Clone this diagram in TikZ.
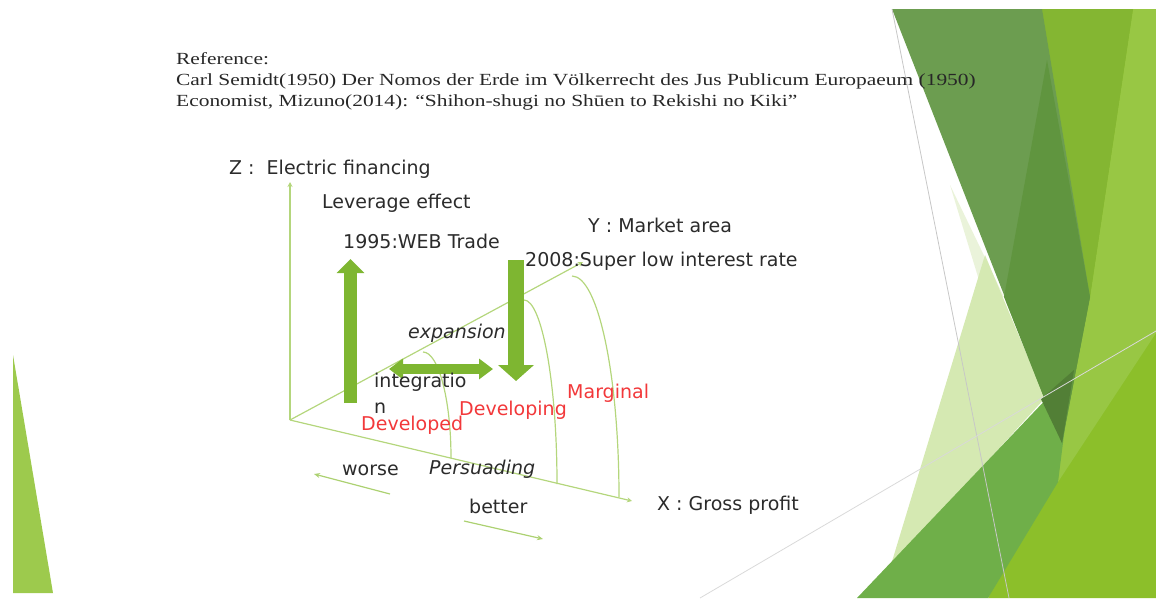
\documentclass[tikz,border=0pt]{standalone}
\usepackage{fontspec}
\setmainfont{Liberation Serif}
\newfontfamily\reffont[FakeStretch=1.26]{Liberation Serif}
\newfontfamily\slidefont{DejaVu Sans}
\usepackage{tikz}
\usetikzlibrary{arrows.meta}
\pgfdeclarelayer{bglayer}
\pgfdeclarelayer{edgelayer}
\pgfdeclarelayer{nodelayer}
\pgfsetlayers{bglayer,edgelayer,nodelayer,main}
\definecolor{ink}{HTML}{2B2B2B}
\definecolor{hot}{HTML}{F2383A}
\definecolor{leaf}{HTML}{7EB631}
\definecolor{stem}{HTML}{B4D67C}
\definecolor{darkfacet}{HTML}{6C9D50}
\definecolor{deepfacet}{HTML}{60953F}
\definecolor{midfacet}{HTML}{84B632}
\definecolor{lightfacet}{HTML}{98C744}
\definecolor{brightfacet}{HTML}{8CBF2A}
\definecolor{bandfacet}{HTML}{6FAF49}
\definecolor{palefacet}{HTML}{D5E9B2}
\definecolor{paler}{HTML}{EAF3DA}
\tikzset{txt/.style={inner sep=0pt, anchor=base west, text=ink, font=\slidefont\fontsize{19}{23}\selectfont}}
\tikzset{slant/.style={txt, font=\slidefont\itshape\fontsize{19}{23}\selectfont}}
\tikzset{redtxt/.style={txt, text=hot}}
\tikzset{reftxt/.style={inner sep=0pt, anchor=base west, text=ink!90!black, font=\reffont\fontsize{17}{21}\selectfont}}
\tikzset{axis/.style={draw=stem, line width=1.2pt, -{Stealth[length=5pt,width=5pt]}}}
\tikzset{bulge/.style={draw=stem, line width=1.2pt}}
\tikzset{hint/.style={draw=stem!85!leaf, line width=1.2pt, -{Stealth[length=6pt,width=5pt]}}}
\tikzset{fat/.style={draw=leaf}}
\tikzset{facet/.style={draw=none}}
\tikzset{seam/.style={draw=black!22, line width=0.8pt}}

\begin{document}
\begin{tikzpicture}[x=1pt, y=1pt]
        \useasboundingbox (0,0) rectangle (1156,-598);
        \begin{pgfonlayer}{bglayer}
            % facets on the right and the sliver on the left
            \fill [facet, brightfacet] (1042,-9) -- (1156,-9) -- (1156,-598) -- (988,-598) -- (1062,-443) -- cycle;
            \fill [facet, lightfacet] (1133,-9) -- (1156,-9) -- (1156,-333) -- (1058,-482) -- (1062,-443) -- (1090,-297) -- cycle;
            \fill [facet, midfacet] (1042,-9) -- (1133,-9) -- (1090,-297) -- cycle;
            \fill [facet, paler] (950,-185) -- (1004,-297) -- (985,-300) -- cycle;
            \fill [facet, palefacet] (985,-255) -- (1045,-398) -- (890,-568) -- cycle;
            \fill [facet, bandfacet] (857,-598) -- (1072,-372) -- (1058,-482) -- (988,-598) -- cycle;
            \fill [facet, darkfacet] (892,-9) -- (1042,-9) -- (1090,-297) -- (1062,-443) -- cycle;
            \fill [facet, deepfacet] (1047,-60) -- (1090,-297) -- (1062,-443) -- (1004,-297) -- cycle;
            \fill [facet, deepfacet!85!black] (1041,-399) -- (1074,-370) -- (1062,-443) -- cycle;
            \fill [facet, lightfacet!95!white] (13,-355) -- (53,-593) -- (13,-593) -- cycle;
            \draw [seam] (892,-9) -- (1009,-598);
            \draw [seam, black!15] (700,-598) -- (1156,-331);
        \end{pgfonlayer}
        \begin{pgfonlayer}{nodelayer}
            \node [reftxt] (0) at (176,-64) {Reference:};
            \node [reftxt] (1) at (176,-85) {Carl Semidt(1950) Der Nomos der Erde im Völkerrecht des Jus Publicum Europaeum (1950)};
            \node [reftxt] (2) at (176,-106) {Economist, Mizuno(2014): “Shihon-shugi no Shūen to Rekishi no Kiki”};
            \node [txt] (3) at (229,-174) {Z :\ \ Electric financing};
            \node [txt] (4) at (322,-208) {Leverage effect};
            \node [txt] (5) at (343,-248) {1995:WEB Trade};
            \node [txt] (6) at (588,-232) {Y : Market area};
            \node [txt] (7) at (525,-266) {2008:Super low interest rate};
            \node [slant] (8) at (408,-338) {expansion};
            \node [txt] (9) at (374,-387) {integratio};
            \node [txt] (10) at (374,-413) {n};
            \node [redtxt] (11) at (361,-430) {Developed};
            \node [redtxt] (12) at (459,-415) {Developing};
            \node [redtxt] (13) at (567,-398) {Marginal};
            \node [txt] (14) at (342,-475) {worse};
            \node [slant] (15) at (429,-474) {Persuading};
            \node [txt] (16) at (469,-513) {better};
            \node [txt] (17) at (657,-510) {X : Gross profit};
        \end{pgfonlayer}
        \begin{pgfonlayer}{edgelayer}
            \coordinate (20) at (290,-420);
            \coordinate (21) at (290,-182);
            \coordinate (22) at (583,-262);
            \coordinate (23) at (632,-501);
            \coordinate (24) at (423,-352);
            \coordinate (25) at (451,-458);
            \coordinate (26) at (524,-300);
            \coordinate (27) at (557,-484);
            \coordinate (28) at (572,-276);
            \coordinate (29) at (619,-497);
            \coordinate (30) at (350.5,-403);
            \coordinate (31) at (350.5,-259);
            \coordinate (32) at (516,-260);
            \coordinate (33) at (516,-381);
            \coordinate (34) at (389,-369);
            \coordinate (35) at (493,-369);
            \coordinate (36) at (390,-494);
            \coordinate (37) at (314,-474);
            \coordinate (38) at (464,-521);
            \coordinate (39) at (543,-539);
            \draw [axis] (20) to (21);
            \draw [axis] (20) to (22);
            \draw [axis] (20) to (23);
            \draw [bulge] (24) .. controls +(15.5,0) and +(0,58.5) .. (25);
            \draw [bulge] (26) .. controls +(17.7,0) and +(0,101.6) .. (27);
            \draw [bulge] (28) .. controls +(26,0) and +(0,122) .. (29);
            \draw [hint] (36) to (37);
            \draw [hint] (38) to (39);
            \draw [fat, line width=13pt, -{Triangle[length=14pt,width=27pt]}] (30) to (31);
            \draw [fat, line width=16pt, -{Triangle[length=16pt,width=35pt]}] (32) to (33);
            \draw [fat, line width=10pt, {Triangle[length=14pt,width=20pt]}-{Triangle[length=14pt,width=20pt]}] (34) to (35);
        \end{pgfonlayer}
    \end{tikzpicture}
\end{document}
